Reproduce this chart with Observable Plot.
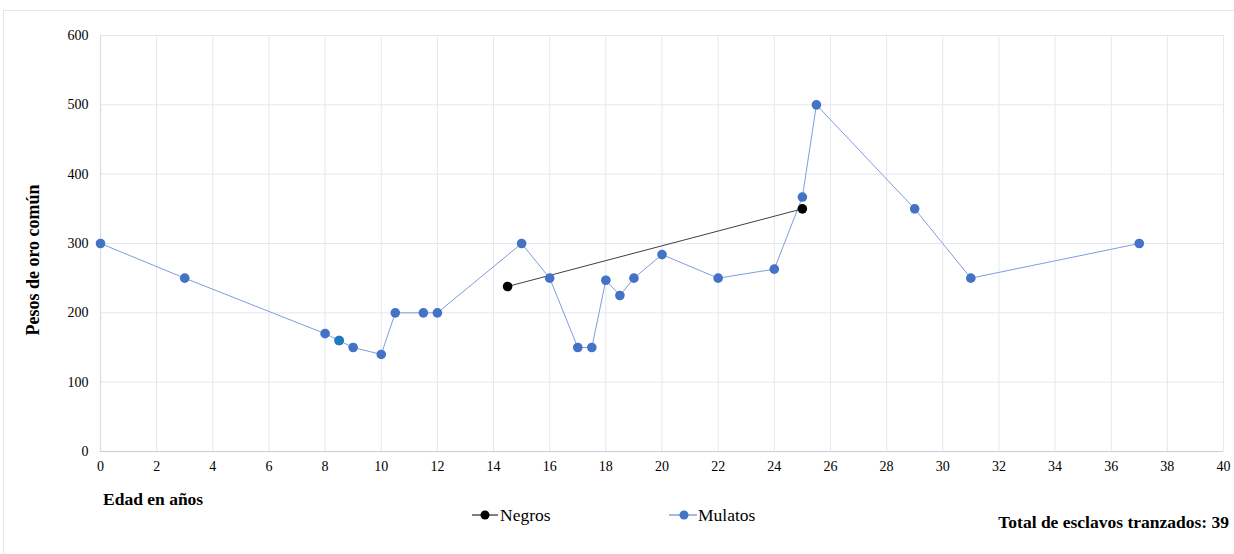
<!DOCTYPE html>
<html>
<head>
<meta charset="utf-8">
<script src="https://cdn.jsdelivr.net/npm/d3@7"></script>
<script src="https://cdn.jsdelivr.net/npm/@observablehq/plot@0.6"></script>
<style>
  body { margin: 0; background: #fff; }
  #wrap, #wrap * { font-family: "Liberation Serif", "DejaVu Serif", serif !important; }
  #wrap { position: relative; width: 1234px; height: 554px; overflow: hidden; }
  #frame { position: absolute; left: 3px; top: 10px; width: 1240px; height: 560px; border: 1px solid #e3e6ec; box-sizing: border-box; }
  #chart { position: absolute; left: 0; top: 0; }
  .lbl { position: absolute; white-space: nowrap; color: #000; line-height: 1; }
  .bold { font-weight: bold; }
  svg text { font-family: "Liberation Serif", serif !important; }
  #ytitle { position: absolute; left: 33px; top: 260px; transform: translate(-50%, -50%) rotate(-90deg); font-size: 18px; font-weight: bold; white-space: nowrap; line-height: 1; }
</style>
</head>
<body>
<div id="wrap">
  <div id="frame"></div>
  <div id="chart"></div>
  <div id="ytitle">Pesos de oro común</div>
  <div class="lbl bold" style="left:103px; top:491px; font-size:17.5px;">Edad en años</div>
  <div class="lbl" style="left:470px; top:507px; font-size:17.5px;">
    <svg width="30" height="14" style="vertical-align:-1px"><line x1="2" y1="7" x2="28" y2="7" stroke="#000" stroke-width="1"/><circle cx="15" cy="7" r="4.5" fill="#000"/></svg>Negros
  </div>
  <div class="lbl" style="left:668px; top:507px; font-size:17.5px;">
    <svg width="30" height="14" style="vertical-align:-1px"><line x1="1" y1="7" x2="29" y2="7" stroke="#4472C4" stroke-width="1"/><circle cx="16" cy="7" r="4.5" fill="#4472C4"/></svg>Mulatos
  </div>
  <div class="lbl bold" style="right:5px; top:514px; font-size:17.5px;">Total de esclavos tranzados: 39</div>
</div>
<script>
// Mulatos series
const mulatosEdad = [0, 3, 8, 8.5, 9, 10, 10.5, 11.5, 12, 15, 16, 17, 17.5, 18, 18.5, 19, 20, 22, 24, 25, 25.5, 29, 31, 37];
const mulatosPesos = [300, 250, 170, 160, 150, 140, 200, 200, 200, 300, 250, 150, 150, 247, 225, 250, 284, 250, 263, 367, 500, 350, 250, 300];
// Negros series
const negrosEdad = [14.5, 25];
const negrosPesos = [238, 350];
// Highlighted point (different colour in the reference)
const destacadoEdad = [8.5];
const destacadoPesos = [160];
// Ticks
const xTicks = [0, 2, 4, 6, 8, 10, 12, 14, 16, 18, 20, 22, 24, 26, 28, 30, 32, 34, 36, 38, 40];
const yTicks = [0, 100, 200, 300, 400, 500, 600];

const mulatos = mulatosEdad.map((x, i) => ({x, y: mulatosPesos[i]}));
const negros = negrosEdad.map((x, i) => ({x, y: negrosPesos[i]}));
const destacado = destacadoEdad.map((x, i) => ({x, y: destacadoPesos[i]}));

const chart = Plot.plot({
  width: 1234,
  height: 554,
  marginLeft: 100,
  marginRight: 11,
  marginTop: 35,
  marginBottom: 103,
  style: { fontFamily: '"Liberation Serif", serif', fontSize: "14px", color: "#000", background: "transparent" },
  x: { domain: [0, 40] },
  y: { domain: [0, 600] },
  marks: [
    Plot.gridX(xTicks, { stroke: "#e4e7ee", strokeOpacity: 1 }),
    Plot.gridY(yTicks, { stroke: "#e4e7ee", strokeOpacity: 1 }),
    Plot.ruleY([0], { stroke: "#c9cdd6", strokeWidth: 1.2 }),
    Plot.ruleX([0], { stroke: "#d9dce3", strokeWidth: 1.2 }),
    Plot.axisX(xTicks, { tickSize: 0, tickPadding: 10, label: null, tickFormat: d => d, fontSize: 14 }),
    Plot.axisY(yTicks, { tickSize: 0, tickPadding: 12, label: null, tickFormat: d => d, fontSize: 14 }),
    Plot.line(mulatos, { x: "x", y: "y", stroke: "#7c9fdc", strokeWidth: 1 }),
    Plot.line(negros, { x: "x", y: "y", stroke: "#404040", strokeWidth: 1 }),
    Plot.dot(mulatos, { x: "x", y: "y", r: 4.8, fill: "#4472C4" }),
    Plot.dot(destacado, { x: "x", y: "y", r: 4.8, fill: "#1f7bc0" }),
    Plot.dot(negros, { x: "x", y: "y", r: 4.8, fill: "#000" })
  ]
});
document.getElementById("chart").appendChild(chart);
</script>
</body>
</html>
